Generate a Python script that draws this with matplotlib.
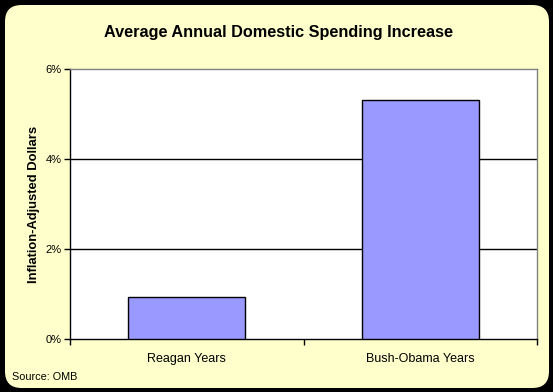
import matplotlib
matplotlib.use("Agg")
import matplotlib.pyplot as plt
from matplotlib.patches import FancyBboxPatch

plt.rcParams['font.family'] = ['Liberation Sans', 'DejaVu Sans']

# data
categories = ["Reagan Years", "Bush-Obama Years"]
values = [0.93, 5.31]
yticks = [0, 2, 4, 6]
ytick_labels = ["0%", "2%", "4%", "6%"]

fig = plt.figure(figsize=(5.53, 3.92), dpi=100, facecolor="black")

# rounded yellow panel
panel = FancyBboxPatch((5 / 553, 4 / 392), 544 / 553, 383 / 392,
                       boxstyle="round,pad=0,rounding_size=0.03",
                       transform=fig.transFigure, facecolor="#FFFFCC",
                       edgecolor="none", zorder=-10,
                       mutation_aspect=553 / 392)
fig.patches.append(panel)

ax = fig.add_axes([70 / 553, 53 / 392, 467 / 553, 270 / 392])
ax.set_zorder(5)
ax.set_facecolor("white")

x = range(len(categories))
ax.bar(x, values, width=0.5, color="#9999FF", edgecolor="black",
       linewidth=1, zorder=3)

for y in [2, 4]:
    ax.axhline(y, color="black", linewidth=1, zorder=1)

ax.set_xlim(-0.5, 1.5)
ax.set_ylim(0, 6)

ax.set_yticks(yticks)
ax.set_yticklabels(ytick_labels, fontsize=8)
ax.tick_params(axis="y", length=4, width=1, color="black", pad=2)

ax.set_xticks(list(x))
ax.set_xticklabels(categories, fontsize=9)
ax.set_xticks([-0.5, 0.5, 1.5], minor=True)
ax.tick_params(axis="x", which="major", length=0, pad=10)
ax.tick_params(axis="x", which="minor", length=4, width=1, color="black")

ax.spines["left"].set_color("black")
ax.spines["bottom"].set_color("black")
ax.spines["top"].set_color("#808080")
ax.spines["right"].set_color("#808080")
for s in ax.spines.values():
    s.set_linewidth(1)

ax.set_ylabel("Inflation-Adjusted Dollars", fontsize=9.4, fontweight="bold",
              labelpad=4)

fig.text(278 / 553, 1 - 32 / 392, "Average Annual Domestic Spending Increase",
         ha="center", va="center", fontsize=11.7, fontweight="bold")
fig.text(12 / 553, 1 - 377 / 392, "Source: OMB", ha="left", va="center",
         fontsize=7.8)

fig.savefig("out.png", dpi=100, facecolor=fig.get_facecolor())
